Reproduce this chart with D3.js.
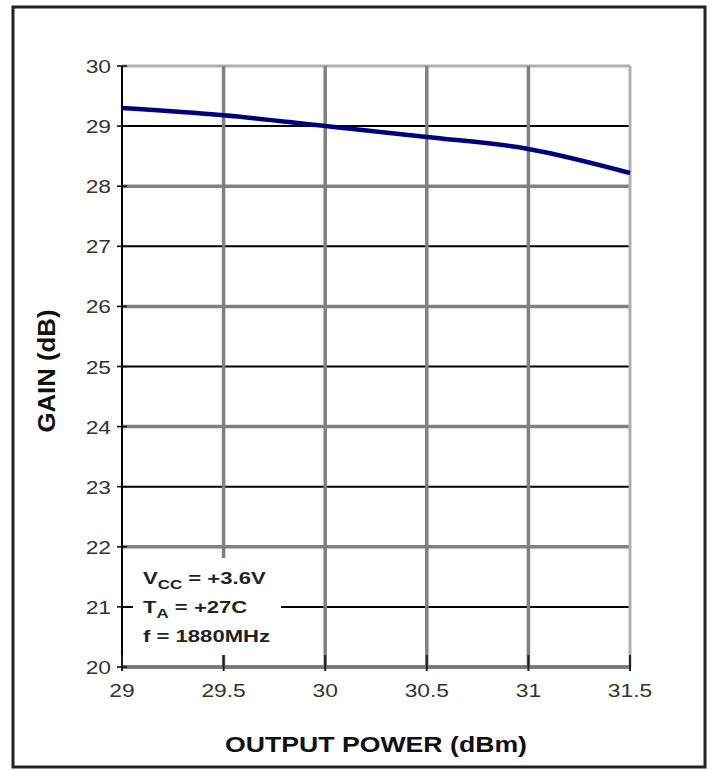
<!DOCTYPE html>
<html>
<head>
<meta charset="utf-8">
<script src="https://cdn.jsdelivr.net/npm/d3@7/dist/d3.min.js"></script>
<style>
  html, body { margin: 0; padding: 0; background: #fff; }
  svg { display: block; }
  text { font-family: "Liberation Sans", Arial, sans-serif; }
</style>
</head>
<body>
<script>
// Gain vs. output power
const outputPower = [29, 29.5, 30, 30.5, 31, 31.5];
const gainValues  = [29.3, 29.18, 29.0, 28.82, 28.62, 28.22];
const xTicks = [29, 29.5, 30, 30.5, 31, 31.5];
const xTickLabels = ["29", "29.5", "30", "30.5", "31", "31.5"];
const yTicks = [20, 21, 22, 23, 24, 25, 26, 27, 28, 29, 30];
const conditions = [
  { main: "V", sub: "CC", rest: " = +3.6V" },
  { main: "T", sub: "A",  rest: " = +27C" },
  { main: "f", sub: "",   rest: " = 1880MHz" }
];

const W = 712, H = 770;
const svg = d3.select("body").append("svg").attr("width", W).attr("height", H);

const x = d3.scaleLinear().domain([29, 31.5]).range([122, 630]);
const y = d3.scaleLinear().domain([20, 30]).range([667, 66]);

// outer frame
svg.append("rect").attr("x", 13).attr("y", 7).attr("width", 692).attr("height", 760)
  .attr("fill", "#fff").attr("stroke", "#222").attr("stroke-width", 3);

const grid = svg.append("g");
// horizontal grid: odd values thin black, even values thick grey
yTicks.forEach(v => {
  const isEven = v % 2 === 0;
  let color = isEven ? "#808080" : "#000";
  let w = isEven ? 3.5 : 2;
  if (v === 30) { color = "#b0b0b0"; w = 3; }
  grid.append("line")
    .attr("x1", x(29)).attr("x2", x(31.5))
    .attr("y1", y(v)).attr("y2", y(v))
    .attr("stroke", color).attr("stroke-width", w);
});
// vertical grid
xTicks.slice(1).forEach(v => {
  const last = v === 31.5;
  grid.append("line")
    .attr("x1", x(v)).attr("x2", x(v))
    .attr("y1", y(30)).attr("y2", y(20))
    .attr("stroke", last ? "#b0b0b0" : "#808080")
    .attr("stroke-width", last ? 3 : 3.5);
});
// bottom axis line
grid.append("line").attr("x1", x(29)).attr("x2", x(31.5))
  .attr("y1", y(20)).attr("y2", y(20)).attr("stroke", "#777").attr("stroke-width", 3.5);

// condition box blanks the grid behind it
svg.append("rect").attr("x", 133).attr("y", 558).attr("width", 148).attr("height", 97)
  .attr("fill", "#fff");

// left axis
svg.append("line").attr("x1", x(29)).attr("x2", x(29))
  .attr("y1", y(30)).attr("y2", y(20)).attr("stroke", "#000").attr("stroke-width", 2);

// ticks crossing the axes
yTicks.forEach(v => {
  svg.append("line").attr("x1", x(29) - 5).attr("x2", x(29) + 5)
    .attr("y1", y(v)).attr("y2", y(v)).attr("stroke", "#111").attr("stroke-width", 1.6);
});
xTicks.forEach(v => {
  svg.append("line").attr("x1", x(v)).attr("x2", x(v))
    .attr("y1", y(20) - 12).attr("y2", y(20) + 4).attr("stroke", "#222").attr("stroke-width", 2);
});

// text helper with horizontal stretch
function label(g, tx, ty, str, size, sx, anchor, weight) {
  return g.append("text")
    .attr("transform", `translate(${tx},${ty}) scale(${sx},1)`)
    .attr("text-anchor", anchor)
    .attr("font-size", size)
    .attr("font-weight", weight || "normal")
    .attr("fill", "#333")
    .text(str);
}

const labels = svg.append("g");
yTicks.forEach(v => {
  label(labels, 111, y(v) + 7, String(v), 19, 1.2, "end");
});
xTicks.forEach((v, i) => {
  label(labels, x(v), 697, xTickLabels[i], 19, 1.2, "middle");
});

// axis titles
svg.append("text")
  .attr("x", 376).attr("y", 752)
  .attr("text-anchor", "middle")
  .attr("font-size", 22).attr("font-weight", "bold").attr("fill", "#111")
  .attr("textLength", 302).attr("lengthAdjust", "spacingAndGlyphs")
  .text("OUTPUT POWER (dBm)");

svg.append("text")
  .attr("transform", "translate(55,371) rotate(-90)")
  .attr("text-anchor", "middle")
  .attr("font-size", 23).attr("font-weight", "bold").attr("fill", "#111")
  .attr("textLength", 123).attr("lengthAdjust", "spacingAndGlyphs")
  .text("GAIN (dB)");

// operating conditions
conditions.forEach((c, i) => {
  const t = svg.append("text")
    .attr("transform", `translate(143,${584 + i * 29}) scale(1.3,1)`)
    .attr("font-size", 17).attr("font-weight", "bold").attr("fill", "#222");
  t.append("tspan").text(c.main);
  if (c.sub) t.append("tspan").attr("font-size", 13).attr("dy", 5).text(c.sub);
  t.append("tspan").attr("dy", c.sub ? -5 : 0).text(c.rest);
});

// gain curve
const line = d3.line()
  .x((d, i) => x(outputPower[i]))
  .y(d => y(d))
  .curve(d3.curveMonotoneX);
svg.append("path").datum(gainValues)
  .attr("d", line)
  .attr("fill", "none")
  .attr("stroke", "#00007f")
  .attr("stroke-width", 4.5)
  .attr("stroke-linejoin", "round");
</script>
</body>
</html>
